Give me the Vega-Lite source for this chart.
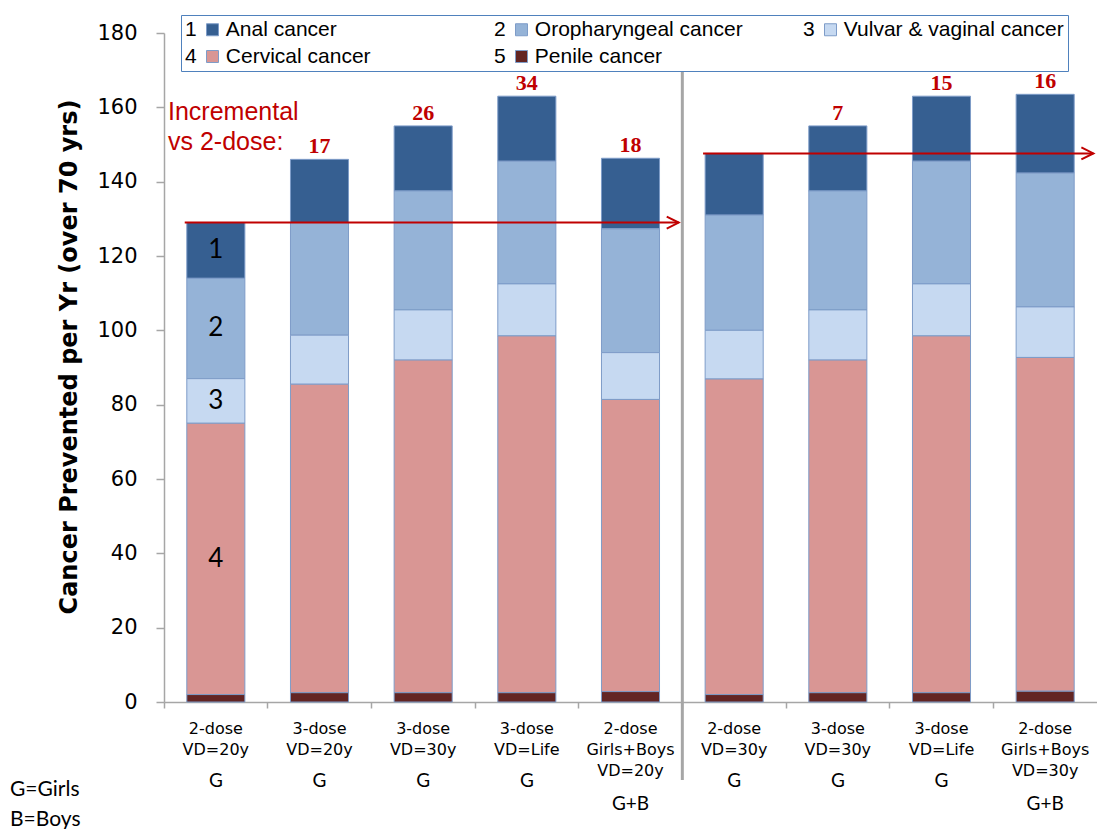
{
  "$schema": "https://vega.github.io/schema/vega-lite/v6.json",
  "width": 933,
  "height": 669,
  "autosize": {"type": "none"},
  "padding": {"left": 164, "top": 33, "right": 0, "bottom": 127},
  "background": "white",
  "config": {"view": {"stroke": null}},
  "datasets": {
    "segments": [
      {"key": "1|2-dose|VD=20y|G", "cancer": "Anal cancer", "num": 1, "value": 15},
      {"key": "1|2-dose|VD=20y|G", "cancer": "Oropharyngeal cancer", "num": 2, "value": 27},
      {"key": "1|2-dose|VD=20y|G", "cancer": "Vulvar & vaginal cancer", "num": 3, "value": 12},
      {"key": "1|2-dose|VD=20y|G", "cancer": "Cervical cancer", "num": 4, "value": 73},
      {"key": "1|2-dose|VD=20y|G", "cancer": "Penile cancer", "num": 5, "value": 2},
      {"key": "2|3-dose|VD=20y|G", "cancer": "Anal cancer", "num": 1, "value": 17},
      {"key": "2|3-dose|VD=20y|G", "cancer": "Oropharyngeal cancer", "num": 2, "value": 30.3},
      {"key": "2|3-dose|VD=20y|G", "cancer": "Vulvar & vaginal cancer", "num": 3, "value": 13.2},
      {"key": "2|3-dose|VD=20y|G", "cancer": "Cervical cancer", "num": 4, "value": 83},
      {"key": "2|3-dose|VD=20y|G", "cancer": "Penile cancer", "num": 5, "value": 2.5},
      {"key": "3|3-dose|VD=30y|G", "cancer": "Anal cancer", "num": 1, "value": 17.5},
      {"key": "3|3-dose|VD=30y|G", "cancer": "Oropharyngeal cancer", "num": 2, "value": 32},
      {"key": "3|3-dose|VD=30y|G", "cancer": "Vulvar & vaginal cancer", "num": 3, "value": 13.5},
      {"key": "3|3-dose|VD=30y|G", "cancer": "Cervical cancer", "num": 4, "value": 89.5},
      {"key": "3|3-dose|VD=30y|G", "cancer": "Penile cancer", "num": 5, "value": 2.5},
      {"key": "4|3-dose|VD=Life|G", "cancer": "Anal cancer", "num": 1, "value": 17.5},
      {"key": "4|3-dose|VD=Life|G", "cancer": "Oropharyngeal cancer", "num": 2, "value": 33},
      {"key": "4|3-dose|VD=Life|G", "cancer": "Vulvar & vaginal cancer", "num": 3, "value": 14},
      {"key": "4|3-dose|VD=Life|G", "cancer": "Cervical cancer", "num": 4, "value": 96},
      {"key": "4|3-dose|VD=Life|G", "cancer": "Penile cancer", "num": 5, "value": 2.5},
      {"key": "5|2-dose|Girls+Boys|VD=20y|G+B", "cancer": "Anal cancer", "num": 1, "value": 19},
      {"key": "5|2-dose|Girls+Boys|VD=20y|G+B", "cancer": "Oropharyngeal cancer", "num": 2, "value": 33.3},
      {"key": "5|2-dose|Girls+Boys|VD=20y|G+B", "cancer": "Vulvar & vaginal cancer", "num": 3, "value": 12.6},
      {"key": "5|2-dose|Girls+Boys|VD=20y|G+B", "cancer": "Cervical cancer", "num": 4, "value": 78.6},
      {"key": "5|2-dose|Girls+Boys|VD=20y|G+B", "cancer": "Penile cancer", "num": 5, "value": 2.8},
      {"key": "6|2-dose|VD=30y|G", "cancer": "Anal cancer", "num": 1, "value": 16.6},
      {"key": "6|2-dose|VD=30y|G", "cancer": "Oropharyngeal cancer", "num": 2, "value": 31},
      {"key": "6|2-dose|VD=30y|G", "cancer": "Vulvar & vaginal cancer", "num": 3, "value": 13.1},
      {"key": "6|2-dose|VD=30y|G", "cancer": "Cervical cancer", "num": 4, "value": 84.9},
      {"key": "6|2-dose|VD=30y|G", "cancer": "Penile cancer", "num": 5, "value": 2},
      {"key": "7|3-dose|VD=30y|G", "cancer": "Anal cancer", "num": 1, "value": 17.5},
      {"key": "7|3-dose|VD=30y|G", "cancer": "Oropharyngeal cancer", "num": 2, "value": 32},
      {"key": "7|3-dose|VD=30y|G", "cancer": "Vulvar & vaginal cancer", "num": 3, "value": 13.5},
      {"key": "7|3-dose|VD=30y|G", "cancer": "Cervical cancer", "num": 4, "value": 89.5},
      {"key": "7|3-dose|VD=30y|G", "cancer": "Penile cancer", "num": 5, "value": 2.5},
      {"key": "8|3-dose|VD=Life|G", "cancer": "Anal cancer", "num": 1, "value": 17.5},
      {"key": "8|3-dose|VD=Life|G", "cancer": "Oropharyngeal cancer", "num": 2, "value": 33},
      {"key": "8|3-dose|VD=Life|G", "cancer": "Vulvar & vaginal cancer", "num": 3, "value": 14},
      {"key": "8|3-dose|VD=Life|G", "cancer": "Cervical cancer", "num": 4, "value": 96},
      {"key": "8|3-dose|VD=Life|G", "cancer": "Penile cancer", "num": 5, "value": 2.5},
      {"key": "9|2-dose|Girls+Boys|VD=30y|G+B", "cancer": "Anal cancer", "num": 1, "value": 21.2},
      {"key": "9|2-dose|Girls+Boys|VD=30y|G+B", "cancer": "Oropharyngeal cancer", "num": 2, "value": 36},
      {"key": "9|2-dose|Girls+Boys|VD=30y|G+B", "cancer": "Vulvar & vaginal cancer", "num": 3, "value": 13.6},
      {"key": "9|2-dose|Girls+Boys|VD=30y|G+B", "cancer": "Cervical cancer", "num": 4, "value": 89.8},
      {"key": "9|2-dose|Girls+Boys|VD=30y|G+B", "cancer": "Penile cancer", "num": 5, "value": 2.9}
    ],
    "increments": [
      {"key": "2|3-dose|VD=20y|G", "inc": 17},
      {"key": "3|3-dose|VD=30y|G", "inc": 26},
      {"key": "4|3-dose|VD=Life|G", "inc": 34},
      {"key": "5|2-dose|Girls+Boys|VD=20y|G+B", "inc": 18},
      {"key": "7|3-dose|VD=30y|G", "inc": 7},
      {"key": "8|3-dose|VD=Life|G", "inc": 15},
      {"key": "9|2-dose|Girls+Boys|VD=30y|G+B", "inc": 16}
    ],
    "arrows": [
      {"start": "1|2-dose|VD=20y|G", "end": "5|2-dose|Girls+Boys|VD=20y|G+B"},
      {"start": "6|2-dose|VD=30y|G", "end": "9|2-dose|Girls+Boys|VD=30y|G+B"}
    ],
    "dividers": [{"key": "6|2-dose|VD=30y|G"}],
    "notes": [{"key": "1|2-dose|VD=20y|G", "note": "Incremental\nvs 2-dose:", "legendnote": "G=Girls\nB=Boys"}]
  },
  "resolve": {"axis": {"x": "independent"}},
  "layer": [
    {
      "data": {"name": "segments"},
      "mark": {"type": "bar", "width": {"band": 0.56}, "stroke": "#7E9CC8", "strokeWidth": 1},
      "encoding": {
        "x": {
          "field": "key", "type": "nominal", "sort": null,
          "scale": {
            "domain": ["1|2-dose|VD=20y|G", "2|3-dose|VD=20y|G", "3|3-dose|VD=30y|G", "4|3-dose|VD=Life|G", "5|2-dose|Girls+Boys|VD=20y|G+B", "6|2-dose|VD=30y|G", "7|3-dose|VD=30y|G", "8|3-dose|VD=Life|G", "9|2-dose|Girls+Boys|VD=30y|G+B"],
            "paddingInner": 0, "paddingOuter": 0
          },
          "axis": {
            "title": null, "orient": "bottom", "bandPosition": 0, "labelAngle": 0,
            "labelAlign": "center", "labelBaseline": "top",
            "labelExpr": "slice(split(datum.value, '|'), 1, -1)",
            "labelFont": "DejaVu Sans", "labelFontSize": 16, "labelLineHeight": 21,
            "labelPadding": 12, "labelColor": "black", "labelLimit": 300, "labelOverlap": false,
            "tickSize": 6, "tickColor": "#A6A6A6", "tickWidth": 1.5,
            "domainColor": "#A6A6A6", "domainWidth": 1.5, "grid": false
          }
        },
        "y": {
          "field": "value", "type": "quantitative", "stack": "zero",
          "scale": {"domain": [0, 180], "nice": false},
          "axis": {
            "orient": "left",
            "values": [0, 20, 40, 60, 80, 100, 120, 140, 160, 180],
            "grid": false, "domainColor": "#A6A6A6", "domainWidth": 1.5,
            "tickColor": "#A6A6A6", "tickSize": 8, "tickWidth": 1.5,
            "labelFont": "DejaVu Sans", "labelFontSize": 21, "labelColor": "black", "labelPadding": 19,
            "title": "Cancer Prevented per Yr (over 70 yrs)",
            "titleFont": "DejaVu Sans", "titleFontSize": 24, "titleFontWeight": "bold",
            "titleColor": "black", "titlePadding": 15, "titleY": 323.5
          }
        },
        "color": {
          "field": "cancer", "type": "nominal",
          "scale": {
            "domain": ["Anal cancer", "Oropharyngeal cancer", "Vulvar & vaginal cancer", "Cervical cancer", "Penile cancer"],
            "range": ["#365F91", "#95B3D7", "#C6D9F1", "#D99694", "#632523"]
          },
          "legend": {
            "title": null, "orient": "none", "legendX": 17, "legendY": -18,
            "direction": "horizontal", "columns": 3, "gridAlign": "all",
            "columnPadding": 48, "rowPadding": 5, "padding": 4,
            "strokeColor": "#4F81BD", "fillColor": "white",
            "symbolType": "square", "symbolSize": 144, "symbolOffset": 17, "labelOffset": -38,
            "symbolStrokeColor": "#7E9CC8", "symbolStrokeWidth": 1,
            "labelFont": "Liberation Sans", "labelFontSize": 21, "labelColor": "black", "labelLimit": 400,
            "labelExpr": "(indexof(['Anal cancer','Oropharyngeal cancer','Vulvar & vaginal cancer','Cervical cancer','Penile cancer'], datum.label) + 1) + '\u00a0\u00a0\u00a0\u00a0\u00a0' + datum.label"
          }
        },
        "order": {"field": "num", "sort": "descending"}
      }
    },
    {
      "data": {"name": "segments"},
      "transform": [
        {"aggregate": [{"op": "sum", "field": "value", "as": "total"}], "groupby": ["key"]},
        {"lookup": "key", "from": {"data": {"name": "increments"}, "key": "key", "fields": ["inc"]}},
        {"filter": "isValid(datum.inc)"}
      ],
      "mark": {"type": "text", "font": "Liberation Serif", "fontWeight": "bold", "fontSize": 22, "color": "#C00000", "baseline": "alphabetic", "dy": -6},
      "encoding": {
        "x": {
          "field": "key", "type": "nominal", "sort": null,
          "axis": {
            "title": null, "orient": "bottom", "domain": false, "ticks": false, "tickSize": 0,
            "labelAngle": 0, "labelAlign": "center", "labelBaseline": "top",
            "labelExpr": "length(split(datum.value, '|')) > 4 ? ['\u00a0', peek(split(datum.value, '|'))] : peek(split(datum.value, '|'))",
            "labelFont": "Lato", "labelFontSize": 19, "labelLineHeight": 23,
            "labelPadding": 69, "labelColor": "black", "labelOverlap": false, "grid": false
          }
        },
        "y": {"field": "total", "type": "quantitative"},
        "text": {"field": "inc"}
      }
    },
    {
      "data": {"name": "segments"},
      "transform": [
        {"filter": "datum.key == '1|2-dose|VD=20y|G'"},
        {"stack": "value", "groupby": ["key"], "sort": [{"field": "num", "order": "descending"}], "as": ["y0", "y1"]},
        {"fold": ["y0", "y1"], "as": ["edge", "pos"]},
        {"aggregate": [{"op": "mean", "field": "pos", "as": "mid"}], "groupby": ["key", "num"]},
        {"filter": "datum.num <= 4"}
      ],
      "mark": {"type": "text", "font": "Lato", "fontSize": 26, "color": "black", "baseline": "middle"},
      "encoding": {
        "x": {"field": "key", "type": "nominal", "axis": null},
        "y": {"field": "mid", "type": "quantitative"},
        "text": {"field": "num"}
      }
    },
    {
      "data": {"name": "segments"},
      "transform": [
        {"aggregate": [{"op": "sum", "field": "value", "as": "total"}], "groupby": ["key"]},
        {"lookup": "key", "from": {"data": {"name": "arrows"}, "key": "start", "fields": ["end"]}},
        {"filter": "isValid(datum.end)"}
      ],
      "mark": {"type": "rule", "color": "#C00000", "strokeWidth": 2},
      "encoding": {
        "x": {"field": "key", "type": "nominal", "bandPosition": 0.2, "axis": null},
        "x2": {"field": "end", "bandPosition": 0.965},
        "y": {"field": "total", "type": "quantitative"}
      }
    },
    {
      "data": {"name": "segments"},
      "transform": [
        {"aggregate": [{"op": "sum", "field": "value", "as": "total"}], "groupby": ["key"]},
        {"lookup": "key", "from": {"data": {"name": "arrows"}, "key": "start", "fields": ["end"]}},
        {"filter": "isValid(datum.end)"}
      ],
      "mark": {"type": "point", "shape": "M-2,-1L0,0L-2,1", "filled": false, "color": "#C00000", "strokeWidth": 2, "size": 144, "opacity": 1},
      "encoding": {
        "x": {"field": "end", "type": "nominal", "bandPosition": 0.965, "axis": null},
        "y": {"field": "total", "type": "quantitative"}
      }
    },
    {
      "data": {"name": "dividers"},
      "mark": {"type": "rule", "color": "#A6A6A6", "strokeWidth": 3},
      "encoding": {
        "x": {"field": "key", "type": "nominal", "bandPosition": 0, "axis": null},
        "y": {"datum": 169.5, "type": "quantitative"},
        "y2": {"datum": -21}
      }
    },
    {
      "data": {"name": "notes"},
      "mark": {"type": "text", "font": "Liberation Sans", "fontSize": 25, "color": "#C00000", "align": "left", "baseline": "top", "lineBreak": "\n", "lineHeight": 30, "dx": 4},
      "encoding": {
        "x": {"field": "key", "type": "nominal", "bandPosition": 0, "axis": null},
        "y": {"datum": 161.9, "type": "quantitative"},
        "text": {"field": "note"}
      }
    },
    {
      "data": {"name": "notes"},
      "mark": {"type": "text", "font": "Lato", "fontSize": 21, "color": "black", "align": "left", "baseline": "top", "lineBreak": "\n", "lineHeight": 30, "dx": -154},
      "encoding": {
        "x": {"field": "key", "type": "nominal", "bandPosition": 0, "axis": null},
        "y": {"datum": -20.7, "type": "quantitative"},
        "text": {"field": "legendnote"}
      }
    }
  ]
}
